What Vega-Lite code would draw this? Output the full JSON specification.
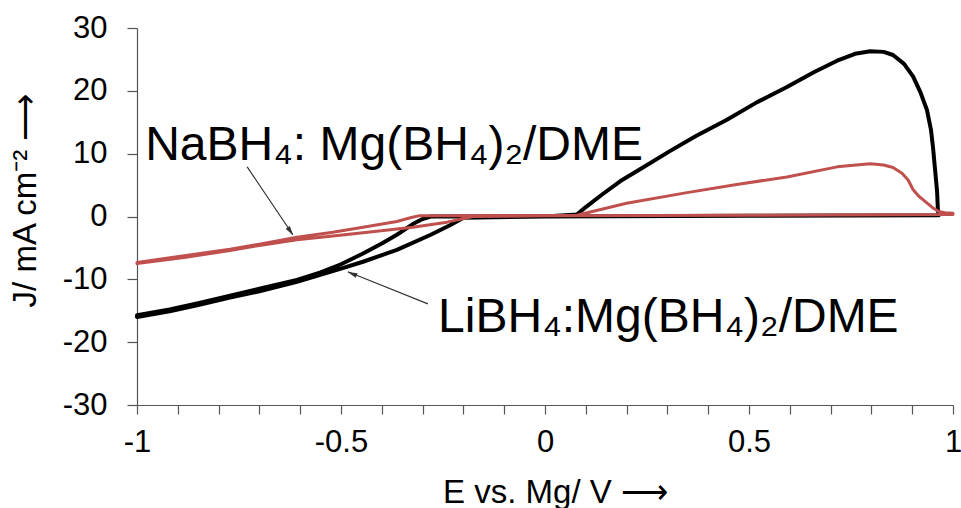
{
  "$schema": "https://vega.github.io/schema/vega-lite/v6.json",
  "width": 816,
  "height": 377,
  "autosize": "none",
  "padding": {"left": 137, "top": 28, "right": 8, "bottom": 103},
  "background": "white",
  "config": {
    "view": {"stroke": null},
    "font": "Liberation Sans",
    "axis": {
      "grid": false,
      "domainColor": "#555555",
      "tickColor": "#555555",
      "domainWidth": 1.2,
      "tickWidth": 1.2,
      "labelColor": "#000000",
      "titleColor": "#000000",
      "labelFont": "Liberation Sans",
      "titleFont": "Liberation Sans",
      "labelFontSize": 31,
      "titleFontSize": 33,
      "titleFontWeight": "normal",
      "labelOverlap": false,
      "labelFlush": false
    }
  },
  "datasets": {
    "curves": [
      {"series": "LiBH4", "i": 1, "E": -0.2, "J": -0.2},
      {"series": "LiBH4", "i": 2, "E": -0.233, "J": -1.4},
      {"series": "LiBH4", "i": 3, "E": -0.28, "J": -2.9},
      {"series": "LiBH4", "i": 4, "E": -0.363, "J": -5.3},
      {"series": "LiBH4", "i": 5, "E": -0.446, "J": -7.2},
      {"series": "LiBH4", "i": 6, "E": -0.51, "J": -8.5},
      {"series": "LiBH4", "i": 7, "E": -0.608, "J": -10.4},
      {"series": "LiBH4", "i": 8, "E": -0.7, "J": -11.9},
      {"series": "LiBH4", "i": 9, "E": -0.772, "J": -12.9},
      {"series": "LiBH4", "i": 10, "E": -0.85, "J": -14.1},
      {"series": "LiBH4", "i": 11, "E": -0.92, "J": -15.1},
      {"series": "LiBH4", "i": 12, "E": -1.0, "J": -16.0},
      {"series": "LiBH4", "i": 13, "E": -1.0, "J": -15.7},
      {"series": "LiBH4", "i": 14, "E": -0.92, "J": -14.8},
      {"series": "LiBH4", "i": 15, "E": -0.85, "J": -13.8},
      {"series": "LiBH4", "i": 16, "E": -0.772, "J": -12.6},
      {"series": "LiBH4", "i": 17, "E": -0.7, "J": -11.5},
      {"series": "LiBH4", "i": 18, "E": -0.608, "J": -10.1},
      {"series": "LiBH4", "i": 19, "E": -0.55, "J": -8.9},
      {"series": "LiBH4", "i": 20, "E": -0.5, "J": -7.6},
      {"series": "LiBH4", "i": 21, "E": -0.446, "J": -5.9},
      {"series": "LiBH4", "i": 22, "E": -0.4, "J": -4.3},
      {"series": "LiBH4", "i": 23, "E": -0.363, "J": -2.9},
      {"series": "LiBH4", "i": 24, "E": -0.324, "J": -1.2},
      {"series": "LiBH4", "i": 25, "E": -0.3, "J": -0.4},
      {"series": "LiBH4", "i": 26, "E": -0.28, "J": 0.0},
      {"series": "LiBH4", "i": 27, "E": 0.0, "J": 0.0},
      {"series": "LiBH4", "i": 28, "E": 0.078, "J": 0.3},
      {"series": "LiBH4", "i": 29, "E": 0.1, "J": 1.5},
      {"series": "LiBH4", "i": 30, "E": 0.14, "J": 3.5},
      {"series": "LiBH4", "i": 31, "E": 0.184, "J": 5.6},
      {"series": "LiBH4", "i": 32, "E": 0.24, "J": 7.8},
      {"series": "LiBH4", "i": 33, "E": 0.306, "J": 10.4},
      {"series": "LiBH4", "i": 34, "E": 0.37, "J": 12.8},
      {"series": "LiBH4", "i": 35, "E": 0.446, "J": 15.4},
      {"series": "LiBH4", "i": 36, "E": 0.52, "J": 18.2},
      {"series": "LiBH4", "i": 37, "E": 0.593, "J": 20.6},
      {"series": "LiBH4", "i": 38, "E": 0.66, "J": 23.0},
      {"series": "LiBH4", "i": 39, "E": 0.716, "J": 24.8},
      {"series": "LiBH4", "i": 40, "E": 0.76, "J": 25.9},
      {"series": "LiBH4", "i": 41, "E": 0.797, "J": 26.3},
      {"series": "LiBH4", "i": 42, "E": 0.83, "J": 26.2},
      {"series": "LiBH4", "i": 43, "E": 0.853, "J": 25.7},
      {"series": "LiBH4", "i": 44, "E": 0.88, "J": 24.3},
      {"series": "LiBH4", "i": 45, "E": 0.902, "J": 22.3},
      {"series": "LiBH4", "i": 46, "E": 0.92, "J": 19.8},
      {"series": "LiBH4", "i": 47, "E": 0.936, "J": 17.0},
      {"series": "LiBH4", "i": 48, "E": 0.946, "J": 13.8},
      {"series": "LiBH4", "i": 49, "E": 0.951, "J": 11.0},
      {"series": "LiBH4", "i": 50, "E": 0.956, "J": 7.5},
      {"series": "LiBH4", "i": 51, "E": 0.961, "J": 4.0},
      {"series": "LiBH4", "i": 52, "E": 0.963, "J": 1.0},
      {"series": "LiBH4", "i": 53, "E": 0.965, "J": 0.2},
      {"series": "LiBH4", "i": 54, "E": 0.5, "J": 0.1},
      {"series": "LiBH4", "i": 55, "E": 0.0, "J": 0.0},
      {"series": "LiBH4", "i": 56, "E": -0.2, "J": -0.2},
      {"series": "NaBH4", "i": 1, "E": -0.176, "J": 0.0},
      {"series": "NaBH4", "i": 2, "E": -0.24, "J": -0.9},
      {"series": "NaBH4", "i": 3, "E": -0.324, "J": -1.7},
      {"series": "NaBH4", "i": 4, "E": -0.446, "J": -2.6},
      {"series": "NaBH4", "i": 5, "E": -0.52, "J": -3.1},
      {"series": "NaBH4", "i": 6, "E": -0.608, "J": -3.7},
      {"series": "NaBH4", "i": 7, "E": -0.7, "J": -4.6},
      {"series": "NaBH4", "i": 8, "E": -0.772, "J": -5.4},
      {"series": "NaBH4", "i": 9, "E": -0.88, "J": -6.5},
      {"series": "NaBH4", "i": 10, "E": -1.0, "J": -7.5},
      {"series": "NaBH4", "i": 11, "E": -1.0, "J": -7.3},
      {"series": "NaBH4", "i": 12, "E": -0.88, "J": -6.2},
      {"series": "NaBH4", "i": 13, "E": -0.772, "J": -5.2},
      {"series": "NaBH4", "i": 14, "E": -0.7, "J": -4.4},
      {"series": "NaBH4", "i": 15, "E": -0.608, "J": -3.3},
      {"series": "NaBH4", "i": 16, "E": -0.52, "J": -2.5},
      {"series": "NaBH4", "i": 17, "E": -0.446, "J": -1.7},
      {"series": "NaBH4", "i": 18, "E": -0.363, "J": -0.8},
      {"series": "NaBH4", "i": 19, "E": -0.33, "J": -0.2},
      {"series": "NaBH4", "i": 20, "E": -0.31, "J": 0.1},
      {"series": "NaBH4", "i": 21, "E": -0.28, "J": 0.1},
      {"series": "NaBH4", "i": 22, "E": 0.078, "J": 0.2},
      {"series": "NaBH4", "i": 23, "E": 0.2, "J": 2.1},
      {"series": "NaBH4", "i": 24, "E": 0.348, "J": 3.8},
      {"series": "NaBH4", "i": 25, "E": 0.47, "J": 5.1},
      {"series": "NaBH4", "i": 26, "E": 0.593, "J": 6.3},
      {"series": "NaBH4", "i": 27, "E": 0.716, "J": 7.9},
      {"series": "NaBH4", "i": 28, "E": 0.797, "J": 8.4},
      {"series": "NaBH4", "i": 29, "E": 0.83, "J": 8.2},
      {"series": "NaBH4", "i": 30, "E": 0.853, "J": 7.8},
      {"series": "NaBH4", "i": 31, "E": 0.875, "J": 6.9},
      {"series": "NaBH4", "i": 32, "E": 0.89, "J": 5.8},
      {"series": "NaBH4", "i": 33, "E": 0.902, "J": 4.3},
      {"series": "NaBH4", "i": 34, "E": 0.915, "J": 3.3},
      {"series": "NaBH4", "i": 35, "E": 0.93, "J": 2.5},
      {"series": "NaBH4", "i": 36, "E": 0.95, "J": 1.4},
      {"series": "NaBH4", "i": 37, "E": 0.965, "J": 0.8},
      {"series": "NaBH4", "i": 38, "E": 0.98, "J": 0.6},
      {"series": "NaBH4", "i": 39, "E": 1.0, "J": 0.5},
      {"series": "NaBH4", "i": 40, "E": 1.0, "J": 0.3},
      {"series": "NaBH4", "i": 41, "E": 0.5, "J": 0.2},
      {"series": "NaBH4", "i": 42, "E": 0.0, "J": 0.1},
      {"series": "NaBH4", "i": 43, "E": -0.176, "J": 0.0}
    ],
    "labels": [
      {"name": "Na", "E": -0.98, "J": 9.0, "text": "NaBH₄: Mg(BH₄)₂/DME"},
      {"name": "Li", "E": -0.262, "J": -18.4, "text": "LiBH₄:Mg(BH₄)₂/DME"}
    ],
    "arrows": [
      {"name": "Na", "E": -0.73, "J": 7.9, "E2": -0.618, "J2": -2.9, "Eh": -0.6245, "Jh": -2.29},
      {"name": "Li", "E": -0.287, "J": -13.9, "E2": -0.483, "J2": -8.8, "Eh": -0.4716, "Jh": -9.14}
    ]
  },
  "layer": [
    {
      "data": {"name": "curves"},
      "transform": [{"filter": "datum.series == 'LiBH4'"}],
      "mark": {"type": "line", "color": "#000000", "strokeWidth": 4, "strokeJoin": "round", "clip": false},
      "encoding": {
        "x": {
          "field": "E", "type": "quantitative",
          "scale": {"domain": [-1, 1], "nice": false, "zero": false},
          "axis": {
            "values": [-1, -0.9, -0.8, -0.7, -0.6, -0.5, -0.4, -0.3, -0.2, -0.1, 0, 0.1, 0.2, 0.3, 0.4, 0.5, 0.6, 0.7, 0.8, 0.9, 1],
            "labelExpr": "abs(datum.value * 2 - round(datum.value * 2)) < 1e-6 ? '' + datum.value : ''",
            "tickSize": 9,
            "labelPadding": 13,
            "title": "E vs. Mg/ V ⟶",
            "titleX": 418,
            "titleY": 97,
            "titleAlign": "center",
            "titleBaseline": "alphabetic"
          }
        },
        "y": {
          "field": "J", "type": "quantitative",
          "scale": {"domain": [-30, 30], "nice": false, "zero": false},
          "axis": {
            "values": [-30, -25, -20, -15, -10, -5, 0, 5, 10, 15, 20, 25, 30],
            "labelExpr": "datum.value % 10 == 0 ? '' + datum.value : ''",
            "tickSize": 10,
            "labelPadding": 20,
            "title": "J/ mA cm⁻² ⟶",
            "titleX": -112,
            "titleY": 172,
            "titleAngle": 270,
            "titleAlign": "center",
            "titleBaseline": "middle"
          }
        },
        "order": {"field": "i", "type": "quantitative"}
      }
    },
    {
      "data": {"name": "curves"},
      "transform": [{"filter": "datum.series == 'NaBH4'"}],
      "mark": {"type": "line", "color": "#c0504d", "strokeWidth": 3, "strokeJoin": "round", "clip": false},
      "encoding": {
        "x": {"field": "E", "type": "quantitative"},
        "y": {"field": "J", "type": "quantitative"},
        "order": {"field": "i", "type": "quantitative"}
      }
    },
    {
      "data": {"name": "arrows"},
      "mark": {"type": "rule", "color": "#333333", "strokeWidth": 1.2},
      "encoding": {
        "x": {"field": "E", "type": "quantitative"},
        "y": {"field": "J", "type": "quantitative"},
        "x2": {"field": "E2"},
        "y2": {"field": "J2"}
      }
    },
    {
      "data": {"name": "arrows"},
      "transform": [{"filter": "datum.name == 'Na'"}],
      "mark": {"type": "point", "shape": "M0,-1L0.45,0.8L-0.45,0.8Z", "size": 120, "filled": true, "color": "#333333", "opacity": 1, "angle": 146},
      "encoding": {
        "x": {"field": "Eh", "type": "quantitative"},
        "y": {"field": "Jh", "type": "quantitative"}
      }
    },
    {
      "data": {"name": "arrows"},
      "transform": [{"filter": "datum.name == 'Li'"}],
      "mark": {"type": "point", "shape": "M0,-1L0.45,0.8L-0.45,0.8Z", "size": 120, "filled": true, "color": "#333333", "opacity": 1, "angle": 292},
      "encoding": {
        "x": {"field": "Eh", "type": "quantitative"},
        "y": {"field": "Jh", "type": "quantitative"}
      }
    },
    {
      "data": {"name": "labels"},
      "mark": {"type": "text", "align": "left", "baseline": "alphabetic", "fontSize": 48, "font": "Liberation Sans", "color": "#000000"},
      "encoding": {
        "x": {"field": "E", "type": "quantitative"},
        "y": {"field": "J", "type": "quantitative"},
        "text": {"field": "text"}
      }
    }
  ]
}
